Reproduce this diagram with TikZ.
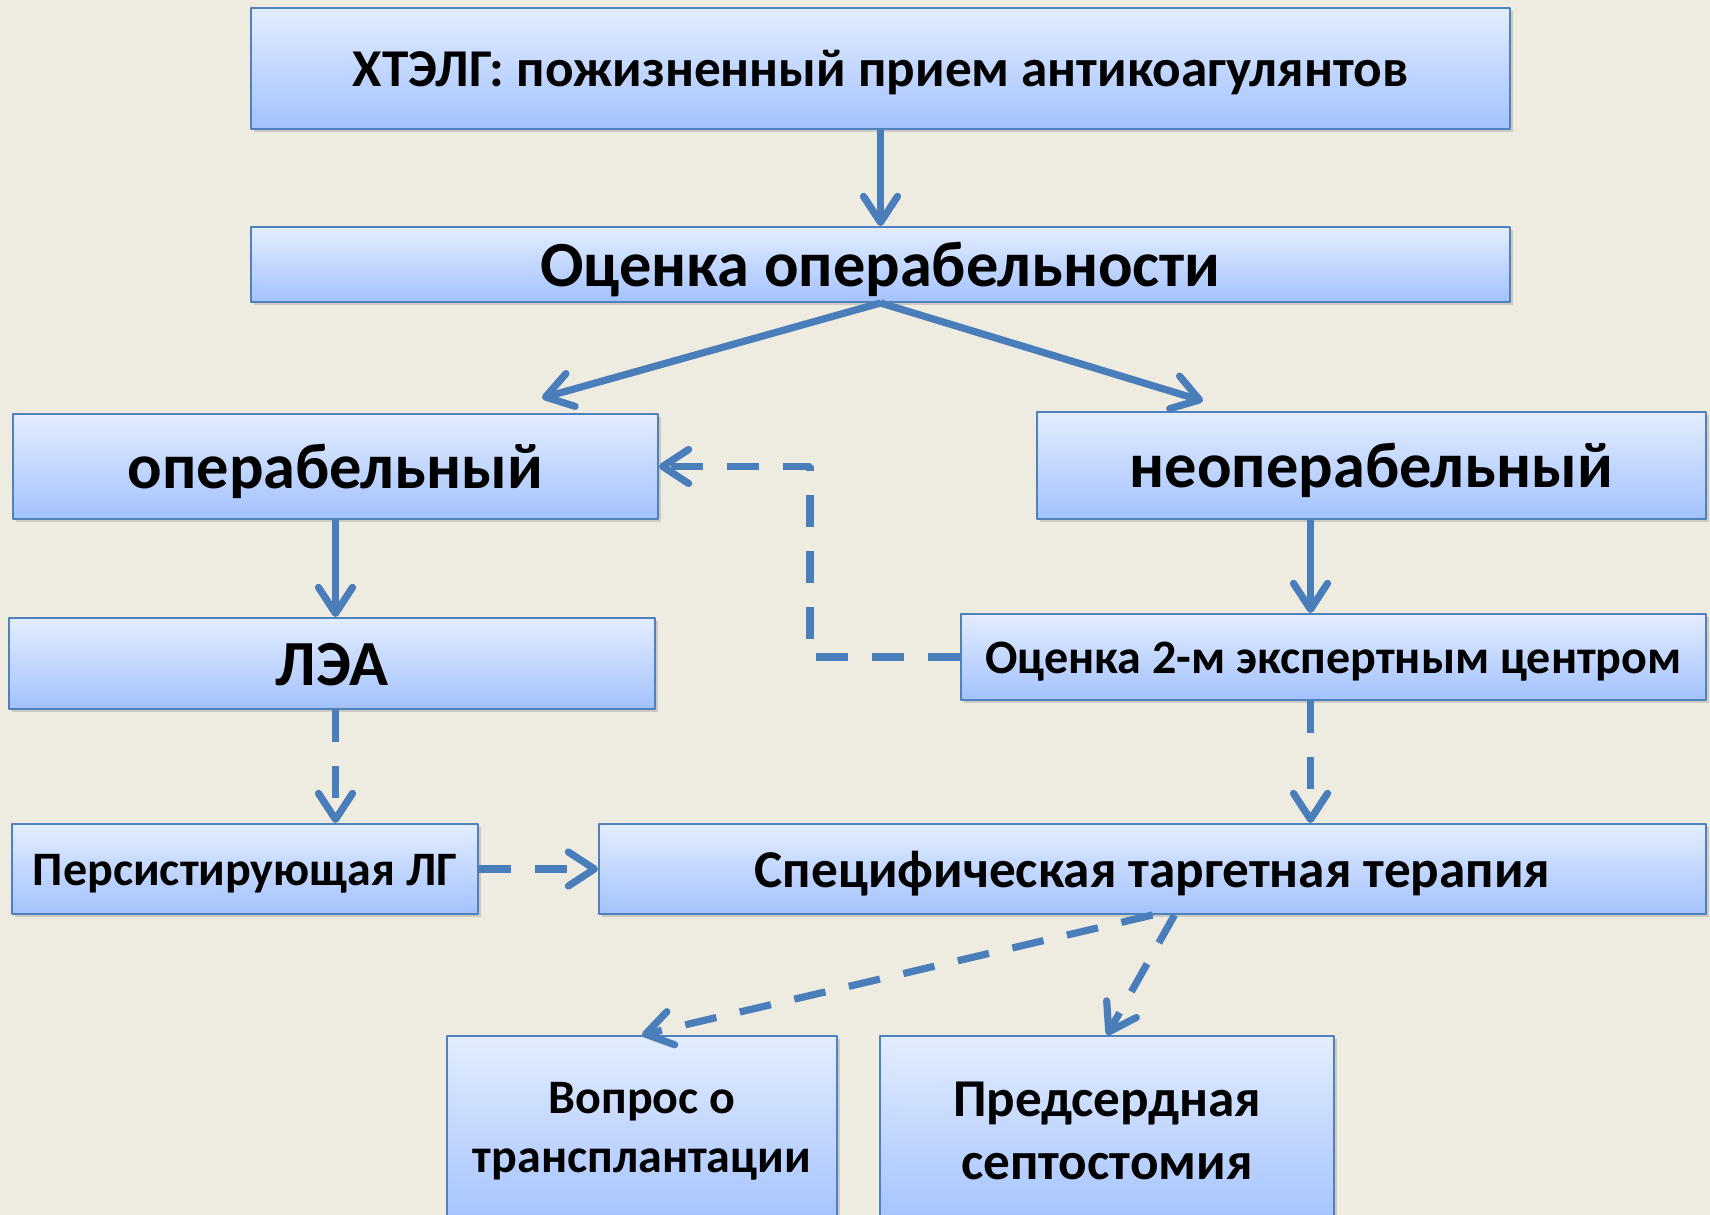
\documentclass[tikz,border=0pt]{standalone}
\usepackage{fontspec}
\setmainfont{Carlito}
\usetikzlibrary{arrows.meta,shadows}
\definecolor{bgcol}{HTML}{EEEBE0}
\definecolor{linecol}{HTML}{4A7EBB}
\definecolor{edgecol}{HTML}{4F81BD}
\definecolor{topcol}{HTML}{E3EDFF}
\definecolor{botcol}{HTML}{A3C2FD}
\tikzset{
  stepbox/.style={draw=edgecol, line width=1bp, top color=topcol, bottom color=botcol,
    inner sep=0pt, align=center,
    drop shadow={shadow xshift=1.5bp, shadow yshift=-1.5bp, opacity=0.3}},
  hugetext/.style={font=\bfseries\fontsize{32.3}{36}\selectfont, text height=28.5pt, text depth=6.5pt},
  midtext/.style={font=\bfseries\fontsize{26.7}{30}\selectfont, text height=23.5pt, text depth=5.3pt},
  smalltext/.style={font=\bfseries\fontsize{24.1}{28}\selectfont, text height=21.2pt, text depth=4.8pt},
  flow/.style={draw=linecol, line width=3.6bp, -{Straight Barb[length=13bp,width=17bp,round]}},
  maybe/.style={flow, dash pattern=on 16bp off 12bp},
}
\begin{document}
\begin{tikzpicture}[line join=bevel]
  \fill[bgcol] (0bp,0bp) rectangle (855bp,607.5bp);
  \useasboundingbox (0bp,0bp) rectangle (855bp,607.5bp);
  \clip (0bp,0bp) rectangle (855bp,607.5bp);
%%
  % Node: chronic
  \node[stepbox, midtext, minimum width=629.5bp, minimum height=60.5bp] (chronic) at (440.25bp,573.25bp) {ХТЭЛГ: пожизненный прием антикоагулянтов};
  % Node: assess
  \node[stepbox, hugetext, minimum width=629.5bp, minimum height=37.5bp] (assess) at (440.25bp,475.25bp) {Оценка операбельности};
  % Node: operab
  \node[stepbox, hugetext, minimum width=322.5bp, minimum height=52.5bp] (operab) at (167.75bp,374.25bp) {операбельный};
  % Node: inoperab
  \node[stepbox, hugetext, minimum width=334.5bp, minimum height=53.5bp] (inoperab) at (685.75bp,374.75bp) {неоперабельный};
  % Node: pea
  \node[stepbox, hugetext, minimum width=323bp, minimum height=45.5bp] (pea) at (166bp,275.75bp) {ЛЭА};
  % Node: expert
  \node[stepbox, smalltext, minimum width=372.5bp, minimum height=43bp] (expert) at (666.75bp,279bp) {Оценка 2-м экспертным центром};
  % Node: persist
  \node[stepbox, smalltext, minimum width=233bp, minimum height=45bp] (persist) at (122.5bp,173bp) {Персистирующая ЛГ};
  % Node: target
  \node[stepbox, midtext, minimum width=553.5bp, minimum height=45bp] (target) at (576.25bp,173bp) {Специфическая таргетная терапия};
  % Node: transpl
  \node[stepbox, font=\bfseries\fontsize{24.1}{29.5}\selectfont, minimum width=195bp, minimum height=95bp] (transpl) at (321bp,42bp) {Вопрос о\\трансплантации};
  % Node: septo
  \node[stepbox, font=\bfseries\fontsize{26.7}{31.7}\selectfont, minimum width=227bp, minimum height=95bp] (septo) at (553.5bp,42bp) {Предсердная\\септостомия};
  \coordinate (opin) at (271bp,408.5bp);
  \coordinate (inopin) at (601.5bp,407bp);
  \coordinate (turn) at (405bp,300bp);
%%
  % Edge: chronic -> assess
  \draw[flow] (chronic.south) -- (assess.north);
  % Edge: assess -> operab
  \draw[flow] (assess.south) -- (opin);
  % Edge: assess -> inoperab
  \draw[flow] (assess.south) -- (inopin);
  % Edge: operab -> pea
  \draw[flow] (operab.south) -- (operab.south |- pea.north);
  % Edge: inoperab -> expert
  \draw[flow] ([xshift=-11.5bp]expert.north |- inoperab.south) -- ([xshift=-11.5bp]expert.north);
  % Edge: pea -> persist
  \draw[maybe] (operab.south |- pea.south) -- (operab.south |- persist.north);
  % Edge: expert -> target
  \draw[maybe] ([xshift=-11.5bp]expert.south) -- ([xshift=-11.5bp]expert.south |- target.north);
  % Edge: expert -> operab
  \draw[maybe] (expert.west) -- (expert.west -| turn) -- (operab.east -| turn) -- (operab.east);
  % Edge: persist -> target
  \draw[maybe] (persist.east) -- (target.west);
  % Edge: target -> transpl
  \draw[maybe] (target.south) -- (transpl.north);
  % Edge: target -> septo
  \draw[maybe] ([xshift=11bp]target.south) -- (septo.north);
%
\end{tikzpicture}
\end{document}
